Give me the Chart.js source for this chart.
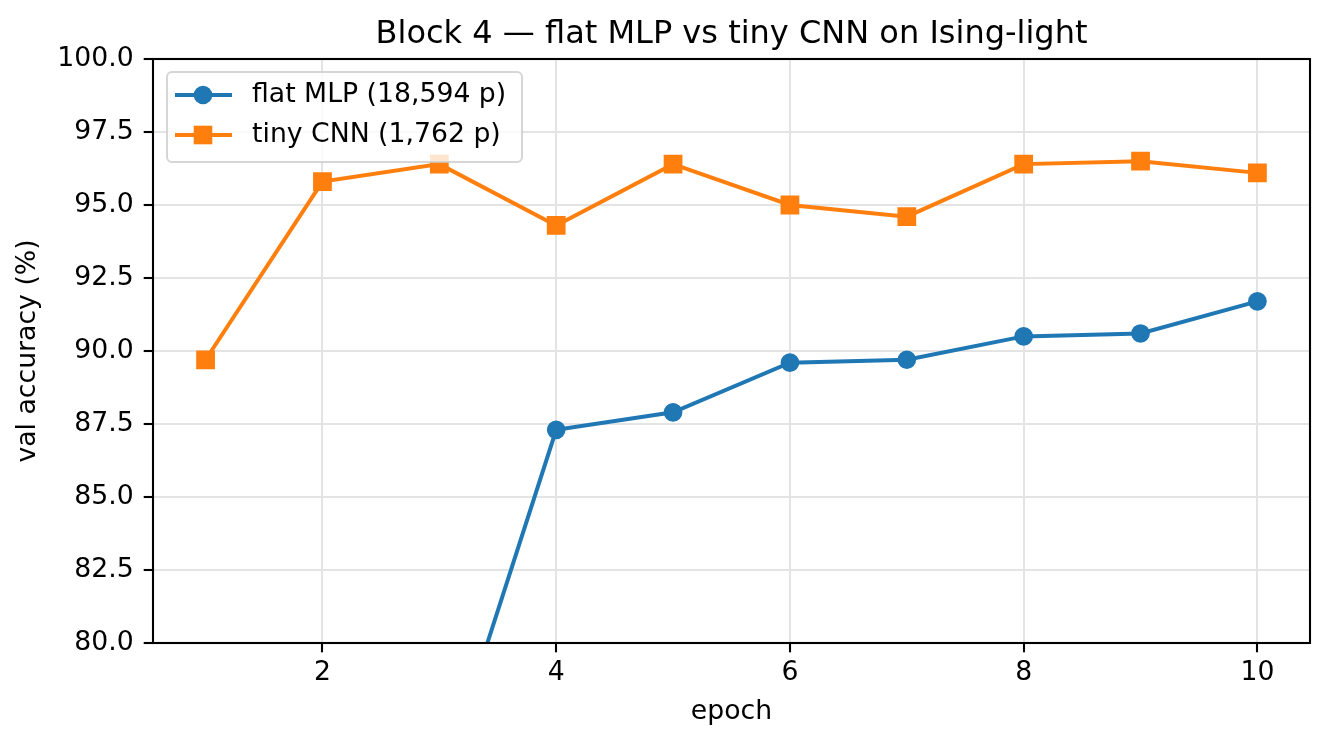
<!DOCTYPE html>
<html>
<head>
<meta charset="utf-8">
<script src="https://cdn.jsdelivr.net/npm/chart.js@4"></script>
<style>
    html, body { margin: 0; padding: 0; background: #fff; }
    #wrap { width: 1328px; height: 747px; }
</style>
</head>
<body>
<div id="wrap"><canvas id="lineChart" width="1328" height="747"></canvas></div>
<script>
// Данные графика
const epochs = [1, 2, 3, 4, 5, 6, 7, 8, 9, 10];
// первые три эпохи MLP ниже 80 — на графике обрезаны, значения оценочные
const mlpAcc = [62.3, 71.0, 74.9, 87.3, 87.9, 89.6, 89.7, 90.5, 90.6, 91.7];
const cnnAcc = [89.7, 95.8, 96.4, 94.3, 96.4, 95.0, 94.6, 96.4, 96.5, 96.1];
const xTicks = [2, 4, 6, 8, 10];
const yTicks = [80, 82.5, 85, 87.5, 90, 92.5, 95, 97.5, 100];
const seriesLabels = ['flat MLP (18,594 p)', 'tiny CNN (1,762 p)'];
const titleText = 'Block 4 \u2014 flat MLP vs tiny CNN on Ising-light';

const FONT = '"DejaVu Sans", sans-serif';
const FS = 26.7;
const BLUE = '#1f77b4';
const ORANGE = '#ff7f0e';

// Рамка, заголовок и легенда в стиле matplotlib
const framePlugin = {
    id: 'frame',
    afterDatasetsDraw(chart) {
        const { ctx, chartArea: a } = chart;
        ctx.save();
        ctx.strokeStyle = '#000';
        ctx.lineWidth = 2.1;
        ctx.strokeRect(a.left, a.top, a.right - a.left, a.bottom - a.top);

        // заголовок по центру области графика
        ctx.fillStyle = '#000';
        ctx.font = '32px ' + FONT;
        ctx.textAlign = 'center';
        ctx.textBaseline = 'alphabetic';
        ctx.fillText(titleText, (a.left + a.right) / 2, 43);

        // легенда
        const bx = a.left + 14, by = a.top + 13, bw = 355, bh = 90;
        ctx.beginPath();
        ctx.roundRect(bx, by, bw, bh, 5);
        ctx.fillStyle = 'rgba(255,255,255,0.8)';
        ctx.fill();
        ctx.strokeStyle = 'rgba(204,204,204,0.8)';
        ctx.lineWidth = 2;
        ctx.stroke();

        const rows = [
            { label: seriesLabels[0], color: BLUE, style: 'circle', y: by + 23 },
            { label: seriesLabels[1], color: ORANGE, style: 'rect', y: by + 63 }
        ];
        rows.forEach(r => {
            ctx.strokeStyle = r.color;
            ctx.lineWidth = 4;
            ctx.beginPath();
            ctx.moveTo(bx + 8, r.y);
            ctx.lineTo(bx + 65, r.y);
            ctx.stroke();
            ctx.fillStyle = r.color;
            if (r.style === 'circle') {
                ctx.beginPath();
                ctx.arc(bx + 36, r.y, 9.3, 0, Math.PI * 2);
                ctx.fill();
            } else {
                ctx.fillRect(bx + 36 - 9.3, r.y - 9.3, 18.6, 18.6);
            }
            ctx.fillStyle = '#000';
            ctx.font = FS + 'px ' + FONT;
            ctx.textAlign = 'left';
            ctx.textBaseline = 'middle';
            ctx.fillText(r.label, bx + 85, r.y);
        });
        ctx.restore();
    }
};

function createLineChart() {
    const ctx = document.getElementById('lineChart')?.getContext('2d');
    if (!ctx) return;

    const gridOpts = { color: '#e4e4e4', lineWidth: 2, tickColor: '#000', tickLength: 9.3, tickWidth: 2.1 };
    const tickFont = { family: FONT, size: FS };

    new Chart(ctx, {
        type: 'line',
        data: {
            datasets: [{
                label: seriesLabels[0],
                data: epochs.map((e, i) => ({ x: e, y: mlpAcc[i] })),
                borderColor: BLUE,
                backgroundColor: BLUE,
                borderWidth: 4,
                pointStyle: 'circle',
                pointRadius: 8.6,
                pointBorderWidth: 1.5,
                pointBackgroundColor: BLUE,
                pointBorderColor: BLUE,
                clip: 0
            }, {
                label: seriesLabels[1],
                data: epochs.map((e, i) => ({ x: e, y: cnnAcc[i] })),
                borderColor: ORANGE,
                backgroundColor: ORANGE,
                borderWidth: 4,
                pointStyle: 'rect',
                pointRadius: 12.2,
                pointBorderWidth: 1.5,
                pointBackgroundColor: ORANGE,
                pointBorderColor: ORANGE,
                clip: 0
            }]
        },
        options: {
            responsive: false,
            animation: false,
            devicePixelRatio: 1,
            layout: { padding: { top: 59, right: 18, bottom: 0, left: 0 } },
            plugins: {
                legend: { display: false },
                title: { display: false },
                tooltip: { enabled: false }
            },
            scales: {
                x: {
                    type: 'linear',
                    min: 0.55,
                    max: 10.45,
                    afterBuildTicks: (s) => { s.ticks = xTicks.map(v => ({ value: v })); },
                    afterFit: (s) => { s.height = 104; },
                    grid: gridOpts,
                    border: { display: false },
                    ticks: { color: '#000', font: tickFont, padding: 5, maxRotation: 0 },
                    title: { display: true, text: 'epoch', color: '#000', font: tickFont, padding: { top: 0, bottom: 19 } }
                },
                y: {
                    min: 80,
                    max: 100,
                    afterBuildTicks: (s) => { s.ticks = yTicks.map(v => ({ value: v })); },
                    afterFit: (s) => { s.width = 153; },
                    grid: gridOpts,
                    border: { display: false },
                    ticks: { color: '#000', font: tickFont, padding: 10, callback: (v) => Number(v).toFixed(1) },
                    title: { display: true, text: 'val accuracy (%)', color: '#000', font: tickFont, padding: { top: 12, bottom: 0 } }
                }
            }
        },
        plugins: [framePlugin]
    });
}

document.addEventListener('DOMContentLoaded', createLineChart);
</script>
</body>
</html>
